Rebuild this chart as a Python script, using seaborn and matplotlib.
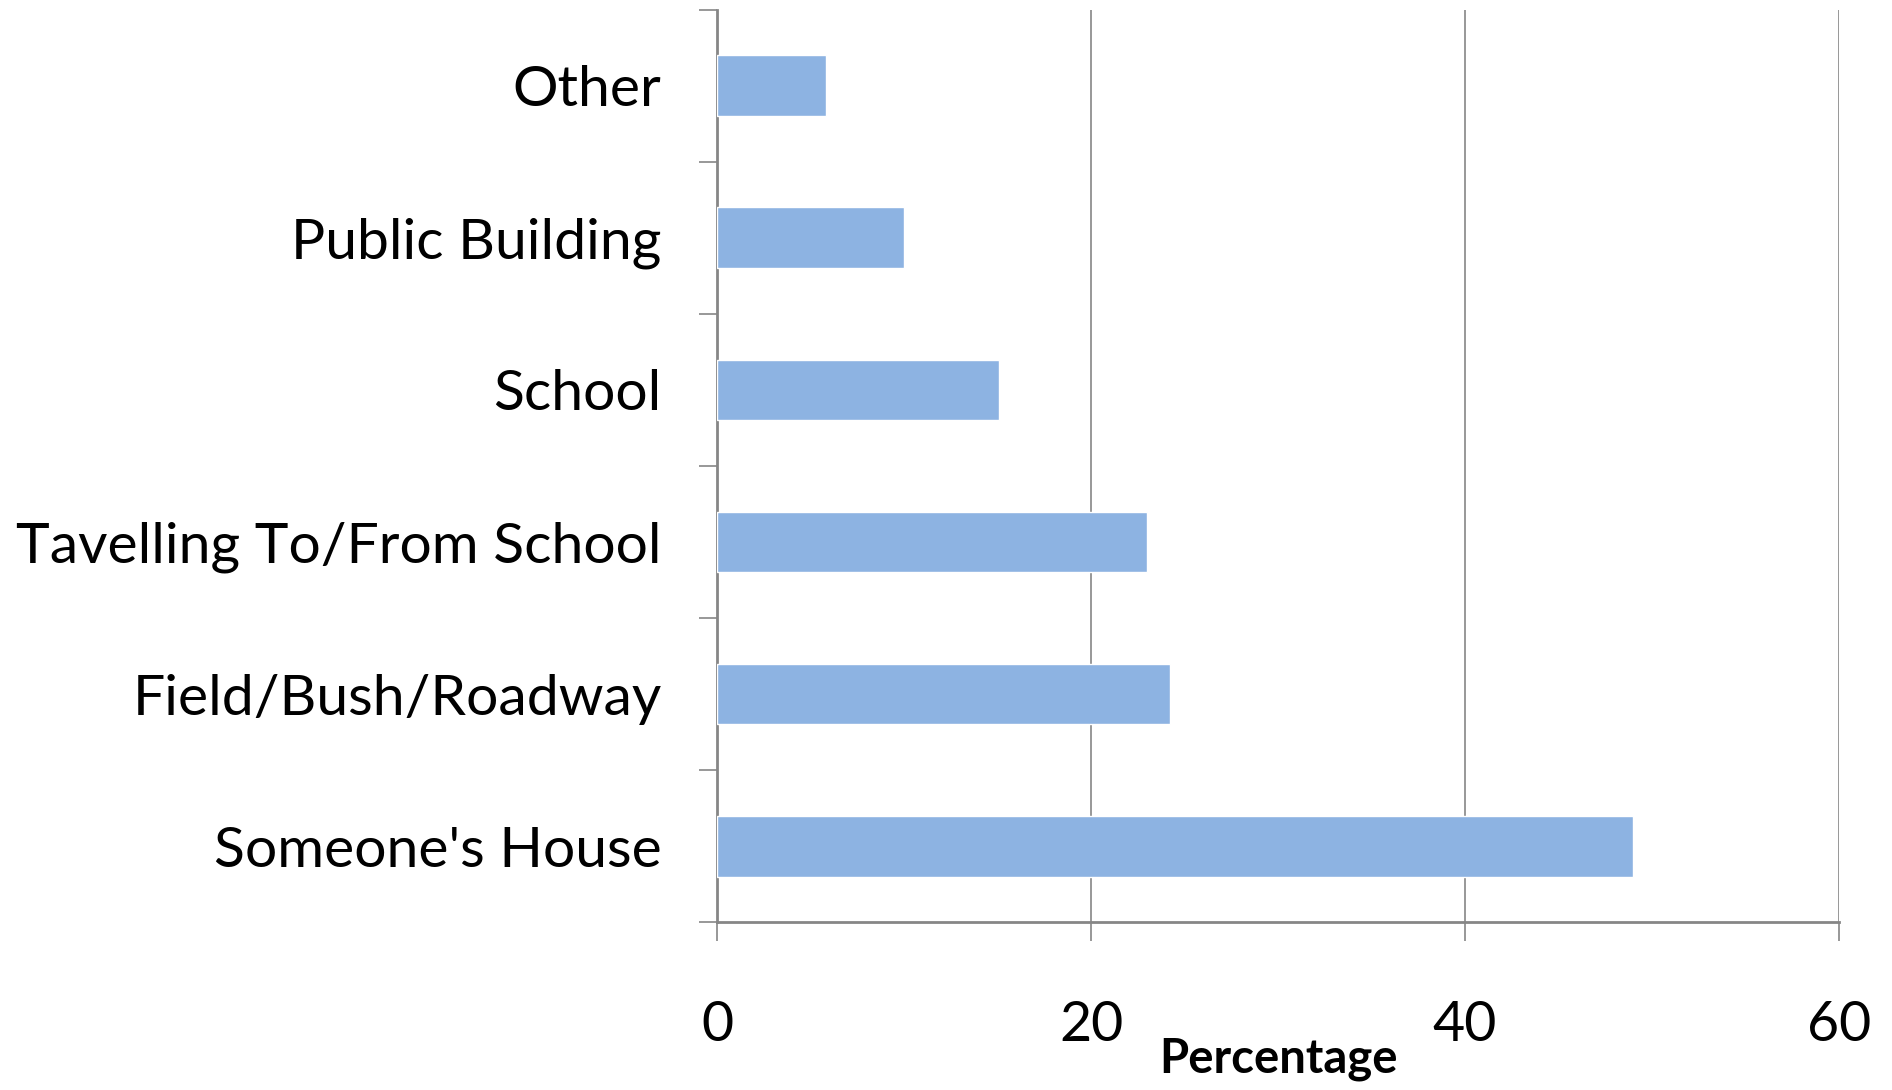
"""
Horizontal bar chart - where incidents took place (percentage)
"""

import pandas as pd
import numpy as np
import matplotlib
matplotlib.use('Agg')
import matplotlib.pyplot as plt
import seaborn as sns

# Data
locations = ['Other', 'Public Building', 'School', 'Tavelling To/From School',
             'Field/Bush/Roadway', "Someone's House"]
percentages = [5.8, 10.0, 15.1, 23.0, 24.2, 49.0]
x_ticks = [0, 20, 40, 60]

df = pd.DataFrame({'Location': locations, 'Percentage': percentages})

sns.set_style('white')
plt.rcParams['font.family'] = ['Lato', 'DejaVu Sans']
plt.rcParams['text.color'] = 'black'
plt.rcParams['axes.labelcolor'] = 'black'
plt.rcParams['xtick.labelcolor'] = 'black'
plt.rcParams['ytick.labelcolor'] = 'black'

axis_grey = '#868686'
bar_blue = '#8DB3E2'

fig = plt.figure(figsize=(18.92, 10.90), dpi=100)
ax = fig.add_axes([0.379, 0.154, 0.593, 0.837])

sns.barplot(data=df, x='Percentage', y='Location', orient='h', color=bar_blue,
            width=0.4, saturation=1, ax=ax, zorder=3)

ax.set_xlim(0, 60)
ax.set_ylim(len(locations) - 0.5, -0.5)
ax.set_xticks(x_ticks)
ax.set_xticklabels([str(t) for t in x_ticks], fontsize=40)
ax.tick_params(axis='x', bottom=True, length=14, width=1.2, color=axis_grey, pad=42)
ax.tick_params(axis='y', which='major', left=True, length=0, pad=40, labelsize=41)
ax.set_yticks(np.arange(-0.5, len(locations), 1.0), minor=True)
ax.tick_params(axis='y', which='minor', left=True, length=13, width=1.2, color=axis_grey)

ax.grid(axis='x', color=axis_grey, linewidth=1.2, zorder=0)
ax.grid(axis='y', visible=False)

for side in ['top', 'right']:
    ax.spines[side].set_visible(False)
for side in ['left', 'bottom']:
    ax.spines[side].set_color(axis_grey)
    ax.spines[side].set_linewidth(2)

ax.set_ylabel('')
ax.set_xlabel('Percentage', fontsize=34, fontweight='bold', labelpad=-10)

plt.savefig('out.png', dpi=100)
plt.close()
